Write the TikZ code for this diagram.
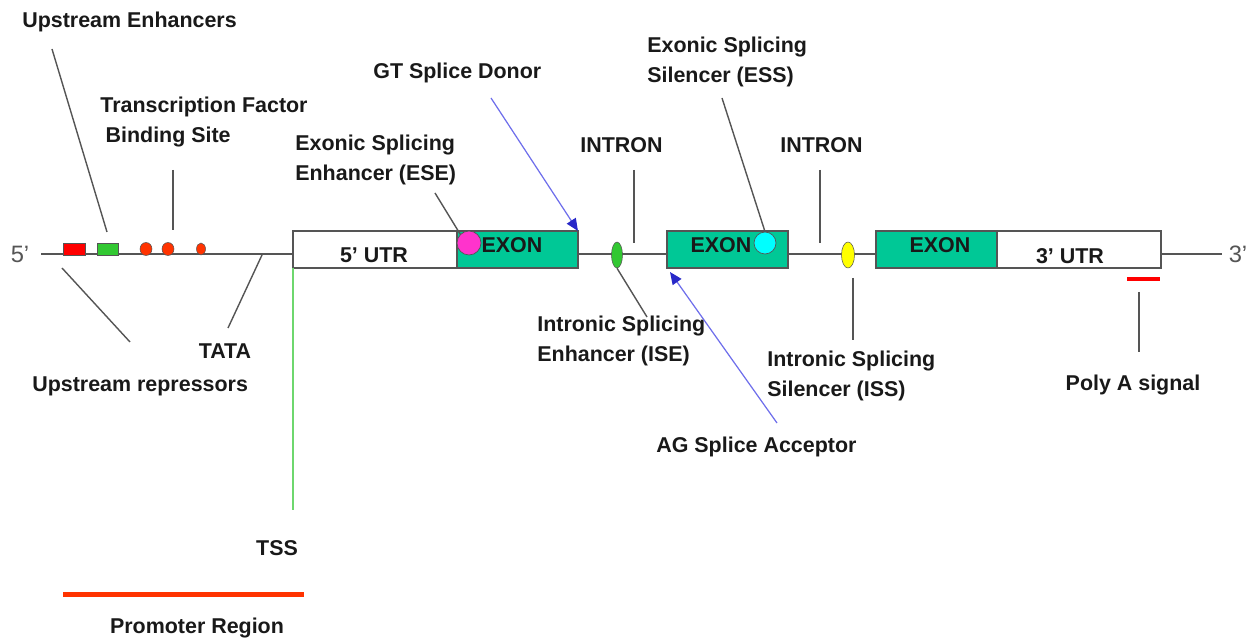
\documentclass[tikz,border=0pt]{standalone}
\usepackage{fontspec}
\setmainfont{Liberation Sans}
\usetikzlibrary{arrows.meta,shapes.geometric}
\definecolor{teal1}{RGB}{0,200,150}
\definecolor{grn1}{RGB}{50,200,50}
\definecolor{orred}{RGB}{255,51,0}
\definecolor{magen}{RGB}{255,51,204}
\definecolor{cyan1}{RGB}{0,255,255}
\definecolor{yel1}{RGB}{255,255,0}
\definecolor{lblue}{RGB}{110,110,235}
\definecolor{dblue}{RGB}{40,40,200}
\definecolor{lgray}{RGB}{85,85,85}
\definecolor{tssg}{RGB}{110,215,110}
\definecolor{txt}{RGB}{25,25,25}
\tikzset{
  lead/.style={draw=lgray, line width=0.8pt},
  bluearr/.style={draw=lblue, line width=0.7pt, -{Triangle[length=7pt,width=6pt,color=dblue]}},
  lbl/.style={font=\bfseries\fontsize{12.2}{16.8}\selectfont, text=txt, inner sep=0pt, align=left},
  boxn/.style={draw=lgray, line width=0.8pt, rectangle, inner sep=0pt, outer sep=0pt, minimum height=0.74cm},
  blob/.style={ellipse, inner sep=0pt, draw=lgray, line width=0.3pt},
  sq/.style={rectangle, inner sep=0pt, draw=lgray, line width=0.5pt, minimum height=0.24cm},
  endl/.style={font=\fontsize{13.5}{16}\selectfont, text=lgray, inner sep=0pt}
}
\begin{document}
\begin{tikzpicture}[x=0.02cm,y=-0.02cm]
\useasboundingbox (0,0) rectangle (1258,641);
% backbone
\coordinate (bbS) at (41,254);
\coordinate (bbE) at (1222,254);
\draw[lead] (bbS) -- (bbE);
\node[endl] (p5) at (20,254) {5’};
\node[endl] (p3) at (1238,254) {3’};
% boxes
\node[boxn, fill=white, minimum width=3.28cm] (utr5) at (375,249.5) {};
\node[boxn, fill=teal1, minimum width=2.42cm] (exon1) at (517.5,249.5) {};
\node[boxn, fill=teal1, minimum width=2.42cm] (exon2) at (727.5,249.5) {};
\node[boxn, fill=teal1, minimum width=2.42cm] (exon3) at (936.5,249.5) {};
\node[boxn, fill=white, minimum width=3.28cm] (utr3) at (1079,249.5) {};
\node[lbl] (tutr5) at (374,255) {5’ UTR};
\node[lbl] (tex1) at (512,245) {EXON};
\node[lbl] (tex2) at (721,245) {EXON};
\node[lbl] (tex3) at (940,245) {EXON};
\node[lbl] (tutr3) at (1070,256) {3’ UTR};
% promoter elements
\node[sq, fill=red, minimum width=0.44cm] (rsq) at (74,249) {};
\node[sq, fill=grn1, minimum width=0.42cm] (gsq) at (107.5,249) {};
\node[blob, fill=orred, minimum width=0.24cm, minimum height=0.26cm] (tf1) at (146,249) {};
\node[blob, fill=orred, minimum width=0.24cm, minimum height=0.26cm] (tf2) at (168,249) {};
\node[blob, fill=orred, minimum width=0.18cm, minimum height=0.24cm] (tf3) at (201,249) {};
% splicing elements
\node[circle, fill=magen, draw=lgray, line width=0.4pt, inner sep=0pt, minimum size=0.48cm] (ese) at (469,243) {};
\node[circle, fill=cyan1, draw=lgray, line width=0.4pt, inner sep=0pt, minimum size=0.44cm] (ess) at (765,243) {};
\node[blob, fill=grn1, minimum width=0.22cm, minimum height=0.52cm] (ise) at (617,255) {};
\node[blob, fill=yel1, minimum width=0.26cm, minimum height=0.52cm] (iss) at (848,255) {};
% bars
\node[rectangle, fill=red, inner sep=0pt, minimum width=0.66cm, minimum height=0.09cm] (polya) at (1143.5,279) {};
\node[rectangle, fill=orred, inner sep=0pt, minimum width=4.82cm, minimum height=0.1cm] (prom) at (183.5,594.5) {};
% labels
\node[lbl, anchor=west] (lue) at (22,22) {Upstream Enhancers};
\node[lbl, anchor=west] (ltf) at (100,122) {Transcription Factor\\\hspace*{3pt}Binding Site};
\node[lbl, anchor=west] (lgt) at (373,73) {GT Splice Donor};
\node[lbl, anchor=west] (lese) at (295,160) {Exonic Splicing\\Enhancer (ESE)};
\node[lbl, anchor=west] (lin1) at (580,145) {INTRON};
\node[lbl, anchor=west] (lin2) at (780,145) {INTRON};
\node[lbl, anchor=west] (less) at (647,62) {Exonic Splicing\\Silencer (ESS)};
\node[lbl, anchor=west] (lise) at (537,341) {Intronic Splicing\\Enhancer (ISE)};
\node[lbl, anchor=west] (liss) at (767,376) {Intronic Splicing\\Silencer (ISS)};
\node[lbl, anchor=west] (lag) at (656,447) {AG Splice Acceptor};
\node[lbl, anchor=west] (lur) at (32,386) {Upstream repressors};
\node[lbl] (ltata) at (225,351) {TATA};
\node[lbl] (ltss) at (277,548) {TSS};
\node[lbl] (lpa) at (1133,385) {Poly A signal};
\node[lbl] (lprom) at (197,628) {Promoter Region};
% leader coordinates
\coordinate (ueA) at (52,49);
\coordinate (ueB) at (107,232);
\coordinate (tfA) at (173,170);
\coordinate (tfB) at (173,230);
\coordinate (urA) at (62,268);
\coordinate (urB) at (130,342);
\coordinate (taA) at (262,255);
\coordinate (taB) at (228,328);
\coordinate (tsA) at (293,268);
\coordinate (tsB) at (293,510);
\coordinate (eseA) at (435,193);
\coordinate (gtA) at (491,98);
\coordinate (i1A) at (634,170);
\coordinate (i1B) at (634,243);
\coordinate (essA) at (722,98);
\coordinate (i2A) at (820,170);
\coordinate (i2B) at (820,243);
\coordinate (iseB) at (647,317);
\coordinate (agA) at (777,423);
\coordinate (agB) at (670,272);
\coordinate (issA) at (853,278);
\coordinate (issB) at (853,340);
\coordinate (paA) at (1139,292);
\coordinate (paB) at (1139,352);
% connectors
\draw[lead] (ueA) -- (ueB);
\draw[lead] (tfA) -- (tfB);
\draw[lead] (urA) -- (urB);
\draw[lead] (taA) -- (taB);
\draw[draw=tssg, line width=0.7pt] (tsA) -- (tsB);
\draw[lead] (eseA) -- (ese.north west);
\draw[bluearr] (gtA) -- (exon1.north east);
\draw[lead] (i1A) -- (i1B);
\draw[lead] (essA) -- (ess.north);
\draw[lead] (i2A) -- (i2B);
\draw[lead] (ise.south) -- (iseB);
\draw[bluearr] (agA) -- (agB);
\draw[lead] (issA) -- (issB);
\draw[lead] (paA) -- (paB);
\end{tikzpicture}
\end{document}
